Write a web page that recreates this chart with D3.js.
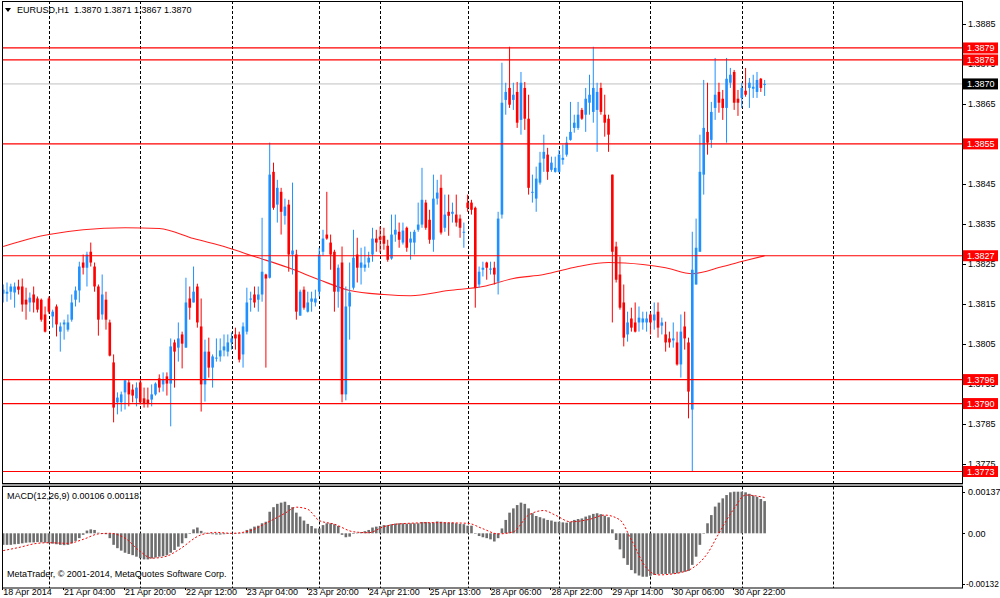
<!DOCTYPE html>
<html><head><meta charset="utf-8">
<script src="https://cdn.jsdelivr.net/npm/d3@7"></script>
<style>
body{margin:0;background:#fff;}
svg{display:block;}
text{font-family:"Liberation Sans",Arial,sans-serif;font-size:9px;fill:#000;white-space:pre;}
</style>
</head><body>
<svg id="c" width="1000" height="598"></svg>
<script>
const symbolTitle = "EURUSD,H1  1.3870 1.3871 1.3867 1.3870";
const macdTitle = "MACD(12,26,9) 0.00106 0.00118";
const copyright = "MetaTrader, © 2001-2014, MetaQuotes Software Corp.";

const opens = [1.38175,1.38175,1.38180,1.38178,1.38193,1.38193,1.38160,1.38153,1.38173,1.38163,
1.38160,1.38123,1.38163,1.38118,1.38143,1.38080,1.38098,1.38085,1.38110,1.38160,
1.38183,1.38253,1.38240,1.38280,1.38243,1.38193,1.38123,1.38160,1.38103,1.38003,
1.37903,1.37903,1.37928,1.37953,1.37935,1.37913,1.37953,1.37913,1.37910,1.37910,
1.37923,1.37963,1.37948,1.37968,1.37950,1.38053,1.38040,1.38073,1.38040,1.38163,
1.38153,1.38193,1.38093,1.37948,1.38030,1.37990,1.38013,1.38018,1.38033,1.38030,
1.38053,1.38073,1.38073,1.38023,1.38080,1.38160,1.38173,1.38160,1.38173,1.38223,
1.38215,1.38480,1.38398,1.38430,1.38370,1.38398,1.38273,1.38273,1.38120,1.38185,
1.38130,1.38155,1.38153,1.38180,1.38280,1.38323,1.38303,1.38280,1.38180,1.38253,
1.37923,1.38143,1.38190,1.38273,1.38240,1.38240,1.38253,1.38273,1.38313,1.38318,
1.38320,1.38295,1.38263,1.38323,1.38330,1.38303,1.38340,1.38303,1.38303,1.38335,
1.38348,1.38403,1.38360,1.38310,1.38413,1.38440,1.38340,1.38380,1.38375,1.38373,
1.38363,1.38328,1.38403,1.38403,1.38390,1.38198,1.38235,1.38253,1.38235,1.38240,
1.38205,1.38373,1.38660,1.38690,1.38660,1.38680,1.38610,1.38690,1.38613,1.38428,
1.38413,1.38453,1.38513,1.38523,1.38485,1.38480,1.38480,1.38510,1.38523,1.38560,
1.38590,1.38590,1.38635,1.38623,1.38653,1.38630,1.38635,1.38690,1.38623,1.38613,
1.38473,1.38293,1.38223,1.38153,1.38073,1.38113,1.38103,1.38103,1.38103,1.38103,
1.38123,1.38108,1.38130,1.38095,1.38073,1.38063,1.38058,1.38053,1.37998,1.38093,
1.38053,1.37885,1.38198,1.38280,1.38473,1.38580,1.38560,1.38640,1.38680,1.38663,
1.38640,1.38703,1.38730,1.38663,1.38665,1.38683,1.38690,1.38688,1.38680,1.38713,
1.38700];
const highs = [1.38198,1.38203,1.38200,1.38203,1.38210,1.38213,1.38190,1.38178,1.38193,1.38168,
1.38163,1.38143,1.38168,1.38135,1.38148,1.38103,1.38110,1.38123,1.38173,1.38193,
1.38255,1.38273,1.38280,1.38303,1.38253,1.38198,1.38223,1.38180,1.38110,1.38023,
1.37928,1.37930,1.37960,1.37960,1.37948,1.37953,1.37960,1.37940,1.37940,1.37948,
1.37953,1.37973,1.37978,1.37978,1.38063,1.38060,1.38103,1.38080,1.38215,1.38193,
1.38243,1.38200,1.38163,1.38060,1.38065,1.38023,1.38063,1.38063,1.38073,1.38073,
1.38078,1.38090,1.38080,1.38103,1.38190,1.38180,1.38193,1.38193,1.38365,1.38225,
1.38553,1.38503,1.38460,1.38440,1.38413,1.38410,1.38453,1.38285,1.38185,1.38193,
1.38180,1.38180,1.38185,1.38290,1.38335,1.38430,1.38323,1.38285,1.38248,1.38293,
1.38193,1.38253,1.38335,1.38315,1.38290,1.38293,1.38280,1.38340,1.38335,1.38343,
1.38340,1.38310,1.38373,1.38373,1.38353,1.38353,1.38343,1.38330,1.38335,1.38403,
1.38490,1.38410,1.38385,1.38473,1.38460,1.38473,1.38423,1.38423,1.38403,1.38423,
1.38373,1.38353,1.38423,1.38410,1.38393,1.38243,1.38255,1.38255,1.38255,1.38255,
1.38380,1.38753,1.38703,1.38793,1.38703,1.38705,1.38730,1.38705,1.38673,1.38473,
1.38493,1.38530,1.38573,1.38540,1.38518,1.38518,1.38535,1.38548,1.38568,1.38655,
1.38623,1.38655,1.38640,1.38690,1.38723,1.38793,1.38703,1.38703,1.38673,1.38623,
1.38473,1.38305,1.38268,1.38198,1.38130,1.38140,1.38153,1.38143,1.38130,1.38130,
1.38128,1.38153,1.38153,1.38115,1.38105,1.38080,1.38103,1.38080,1.38123,1.38130,
1.38065,1.38330,1.38363,1.38573,1.38710,1.38703,1.38655,1.38765,1.38703,1.38685,
1.38765,1.38740,1.38735,1.38685,1.38703,1.38740,1.38715,1.38723,1.38730,1.38715,
1.38710];
const lows = [1.38153,1.38155,1.38160,1.38140,1.38173,1.38130,1.38110,1.38130,1.38128,1.38128,
1.38105,1.38078,1.38125,1.38090,1.38068,1.38030,1.38060,1.38080,1.38105,1.38143,
1.38153,1.38223,1.38193,1.38243,1.38180,1.38070,1.38110,1.38085,1.38018,1.37853,
1.37873,1.37880,1.37885,1.37893,1.37903,1.37893,1.37898,1.37890,1.37890,1.37893,
1.37920,1.37928,1.37930,1.37920,1.37843,1.37940,1.38005,1.37988,1.38040,1.38110,
1.38153,1.38090,1.37880,1.37905,1.37965,1.37940,1.38005,1.38005,1.38018,1.38018,
1.38035,1.38035,1.38003,1.37990,1.38073,1.38130,1.38140,1.38130,1.38155,1.37990,
1.38213,1.38385,1.38353,1.38323,1.38348,1.38230,1.38223,1.38110,1.38120,1.38135,
1.38128,1.38130,1.38143,1.38168,1.38270,1.38310,1.38235,1.38130,1.38140,1.37903,
1.37908,1.38060,1.38185,1.38203,1.38198,1.38230,1.38240,1.38255,1.38280,1.38278,
1.38285,1.38255,1.38260,1.38305,1.38290,1.38298,1.38280,1.38260,1.38273,1.38330,
1.38340,1.38335,1.38300,1.38280,1.38398,1.38323,1.38330,1.38320,1.38353,1.38343,
1.38315,1.38290,1.38380,1.38373,1.38140,1.38190,1.38218,1.38210,1.38223,1.38198,
1.38173,1.38363,1.38623,1.38640,1.38635,1.38590,1.38573,1.38585,1.38423,1.38403,
1.38380,1.38448,1.38480,1.38460,1.38480,1.38478,1.38478,1.38498,1.38518,1.38558,
1.38578,1.38585,1.38610,1.38580,1.38623,1.38603,1.38530,1.38623,1.38568,1.38530,
1.38103,1.38203,1.38135,1.38043,1.38055,1.38080,1.38078,1.38080,1.38085,1.38080,
1.38073,1.38085,1.38065,1.38073,1.38030,1.38040,1.38040,1.37995,1.37965,1.38035,
1.37863,1.37730,1.38198,1.38280,1.38423,1.38523,1.38540,1.38610,1.38628,1.38610,
1.38553,1.38690,1.38635,1.38620,1.38640,1.38668,1.38640,1.38665,1.38665,1.38680,
1.38670];
const closes = [1.38185,1.38180,1.38193,1.38193,1.38185,1.38148,1.38148,1.38165,1.38153,1.38135,
1.38110,1.38080,1.38130,1.38130,1.38098,1.38093,1.38103,1.38103,1.38153,1.38183,
1.38243,1.38240,1.38273,1.38253,1.38193,1.38110,1.38173,1.38110,1.38020,1.37890,
1.37915,1.37923,1.37958,1.37923,1.37920,1.37940,1.37903,1.37900,1.37900,1.37923,
1.37950,1.37940,1.37960,1.37950,1.38043,1.38030,1.38063,1.38050,1.38153,1.38140,
1.38180,1.38103,1.37948,1.38030,1.37990,1.38018,1.38015,1.38033,1.38043,1.38053,
1.38063,1.38063,1.38010,1.38093,1.38153,1.38163,1.38153,1.38173,1.38230,1.38213,
1.38473,1.38390,1.38440,1.38380,1.38393,1.38273,1.38283,1.38130,1.38180,1.38140,
1.38153,1.38163,1.38163,1.38273,1.38313,1.38313,1.38273,1.38180,1.38240,1.37923,
1.38143,1.38178,1.38265,1.38240,1.38253,1.38248,1.38265,1.38313,1.38303,1.38310,
1.38300,1.38260,1.38323,1.38335,1.38310,1.38333,1.38290,1.38313,1.38330,1.38348,
1.38410,1.38340,1.38310,1.38413,1.38428,1.38328,1.38373,1.38370,1.38380,1.38353,
1.38340,1.38330,1.38390,1.38385,1.38190,1.38230,1.38240,1.38240,1.38238,1.38223,
1.38363,1.38653,1.38680,1.38648,1.38673,1.38603,1.38703,1.38613,1.38440,1.38430,
1.38463,1.38503,1.38530,1.38480,1.38503,1.38490,1.38523,1.38515,1.38553,1.38580,
1.38603,1.38623,1.38613,1.38663,1.38673,1.38690,1.38680,1.38630,1.38603,1.38573,
1.38280,1.38210,1.38140,1.38065,1.38103,1.38090,1.38080,1.38115,1.38113,1.38113,
1.38103,1.38123,1.38090,1.38103,1.38053,1.38053,1.38063,1.37998,1.38080,1.38063,
1.37930,1.38235,1.38290,1.38480,1.38590,1.38553,1.38630,1.38673,1.38653,1.38640,
1.38713,1.38723,1.38653,1.38653,1.38690,1.38673,1.38703,1.38693,1.38710,1.38690,
1.38700];

// moving average readings (bar index, price)
const maBars = [0,8,12,21,32,41,50,59,66,75,83,91,100,107,117,126,134,142,151,159,168,174,181,189,195,200];
const maVals = [1.38293,1.38315,1.38323,1.38335,1.38340,1.38338,1.38313,1.38290,1.38268,1.38240,1.38210,1.38183,1.38173,1.38170,1.38183,1.38193,1.38213,1.38223,1.38243,1.38253,1.38248,1.38240,1.38225,1.38243,1.38258,1.38270];

// MACD main (histogram) values, in 1e-5
const macdHist = [-38,-38,-38,-36,-35,-33,-31,-30,-30,-29,
-30,-31,-33,-34,-36,-38,-39,-38,-33,-25,
-16,-5,9,13,11,2,-2,-3,-16,-38,
-49,-57,-64,-68,-72,-77,-82,-86,-86,-83,
-80,-77,-75,-72,-64,-55,-44,-33,-16,-2,
13,19,8,2,-2,-3,-4,-4,-3,-2,
-1,1,-1,2,11,15,22,25,33,38,
71,86,97,101,104,93,86,68,55,42,
31,24,16,16,27,33,33,30,24,-5,
-13,-11,-2,2,4,7,11,19,22,24,
27,27,30,32,33,33,32,33,33,33,
37,37,35,36,39,38,36,35,35,33,
31,30,25,25,-1,-9,-13,-16,-20,-27,
-16,16,44,68,82,93,101,97,82,66,
57,53,49,44,42,38,38,36,35,38,
44,47,49,55,59,64,66,63,58,53,
13,-22,-53,-82,-104,-121,-132,-139,-143,-143,
-140,-137,-135,-134,-134,-133,-133,-132,-129,-127,
-124,-104,-77,-38,1,33,60,88,101,115,
126,135,137,137,137,135,130,125,120,113,
106];
// MACD signal readings (bar index, 1e-5)
const sigBars = [0,4,9,12,17,21,25,28,32,36,39,43,46,52,56,60,65,69,74,77,80,83,87,92,96,100,104,113,122,126,130,134,138,142,145,149,154,158,162,165,169,172,178,181,185,188,192,195,200];
const sigVals = [-57,-47,-33,-31,-33,-20,-2,0,-16,-60,-82,-75,-55,-5,3,0,9,33,66,86,79,42,30,5,2,22,31,35,33,15,-2,5,60,75,60,38,46,60,44,-22,-115,-137,-129,-115,-66,0,82,126,118];

const timeLabels = ["18 Apr 2014","21 Apr 04:00","21 Apr 20:00","22 Apr 12:00","23 Apr 04:00","23 Apr 20:00","24 Apr 21:00","25 Apr 13:00","28 Apr 06:00","28 Apr 22:00","29 Apr 14:00","30 Apr 06:00","30 Apr 22:00"];
const labelStep = 16;
const gridBars = [12,36,60,83,99,122,146,170,194,218];

const priceTicks = [1.3885,1.3875,1.3865,1.3855,1.3845,1.3835,1.3825,1.3815,1.3805,1.3795,1.3785,1.3775];
const levelLines = [1.3879,1.3876,1.3855,1.3827,1.3796,1.3790,1.3773];
const bidPrice = 1.3870;
const macdTicks = [0.00137, 0, -0.00132];
const macdTickText = ["0.00137","0.00","-0.00132"];

// ---------- drawing ----------
const svg = d3.select("#c");
const L = 2, R = 962, T = 1, MB = 483.5, ST = 486.5, SB = 588;
const x = d3.scaleLinear().domain([0, 252]).range([3.2, 962.6]);
const y = d3.scaleLinear().domain([1.3775, 1.3885]).range([463.5, 24]);
const my = d3.scaleLinear().domain([0, 0.00137]).range([533.3, 491.7]);

svg.append("rect").attr("width",1000).attr("height",598).attr("fill","#fff");

const defs = svg.append("defs");
defs.append("clipPath").attr("id","cm").append("rect").attr("x",L).attr("y",T).attr("width",R-L).attr("height",MB-T);
defs.append("clipPath").attr("id","cs").append("rect").attr("x",L).attr("y",ST).attr("width",R-L).attr("height",SB-ST);

const gm = svg.append("g").attr("clip-path","url(#cm)");
const gs = svg.append("g").attr("clip-path","url(#cs)");

// vertical grid
[gm, gs].forEach((g,k) => {
  g.selectAll("line.grid").data(gridBars).join("line")
    .attr("x1", d => Math.round(x(d))+0.5).attr("x2", d => Math.round(x(d))+0.5)
    .attr("y1", k ? ST : T).attr("y2", k ? SB : MB)
    .attr("stroke","#000").attr("stroke-width",1).attr("stroke-dasharray","3,2");
});

// bid line
gm.append("line").attr("x1",L).attr("x2",R).attr("y1",y(bidPrice)).attr("y2",y(bidPrice))
  .attr("stroke","#c0c0c0").attr("stroke-width",1);

// moving average
const maLine = d3.line().x((d,i)=>x(maBars[i])).y((d,i)=>y(maVals[i])).curve(d3.curveMonotoneX);
gm.append("path").attr("d", maLine(maVals)).attr("fill","none").attr("stroke","#ff2020").attr("stroke-width",1.1);

// candles
const idx = d3.range(opens.length);
const col = i => closes[i] >= opens[i] ? "#1e90ff" : "#ff0000";
gm.selectAll("line.wick").data(idx).join("line")
  .attr("x1", i => x(i)).attr("x2", i => x(i))
  .attr("y1", i => y(highs[i])).attr("y2", i => y(lows[i]))
  .attr("stroke", col).attr("stroke-width",1);
gm.selectAll("rect.body").data(idx).join("rect")
  .attr("x", i => x(i)-1.3).attr("width", 2.6)
  .attr("y", i => y(Math.max(opens[i],closes[i])))
  .attr("height", i => Math.max(1, Math.abs(y(opens[i])-y(closes[i]))))
  .attr("fill", col);

// level lines
gm.selectAll("line.lvl").data(levelLines).join("line")
  .attr("x1",L).attr("x2",R).attr("y1",d=>y(d)).attr("y2",d=>y(d))
  .attr("stroke","#ff0000").attr("stroke-width",1.2);

// MACD histogram
gs.selectAll("rect.h").data(idx).join("rect")
  .attr("x", i => x(i)-1.3).attr("width", 2.6)
  .attr("y", i => Math.min(my(macdHist[i]/1e5), my(0)))
  .attr("height", i => Math.max(0.5, Math.abs(my(macdHist[i]/1e5)-my(0))))
  .attr("fill","#6e6e6e");
const sigLine = d3.line().x((d,i)=>x(sigBars[i])).y((d,i)=>my(sigVals[i]/1e5)).curve(d3.curveMonotoneX);
gs.append("path").attr("d", sigLine(sigVals)).attr("fill","none").attr("stroke","#ff0000")
  .attr("stroke-width",1).attr("stroke-dasharray","2,2");

// frames
svg.append("rect").attr("x",L+0.5).attr("y",T+0.5).attr("width",R-L).attr("height",MB-T-0.5)
  .attr("fill","none").attr("stroke","#000");
svg.append("rect").attr("x",L).attr("y",MB+0.5).attr("width",R-L+1).attr("height",ST-MB-1).attr("fill","#a0a0a0");
svg.append("rect").attr("x",L+0.5).attr("y",ST).attr("width",R-L).attr("height",SB-ST)
  .attr("fill","none").attr("stroke","#000");

// header
svg.append("path").attr("d","M5,8 L11,8 L8,12 Z").attr("fill","#000");
svg.append("text").attr("x",17).attr("y",13).text(symbolTitle);
svg.append("text").attr("x",7).attr("y",498.5).text(macdTitle);
svg.append("text").attr("x",7).attr("y",577).text(copyright);

// price axis
const pa = svg.append("g");
pa.selectAll("line").data(priceTicks).join("line")
  .attr("x1",R).attr("x2",R+4).attr("y1",d=>Math.round(y(d))+0.5).attr("y2",d=>Math.round(y(d))+0.5).attr("stroke","#000");
pa.selectAll("text").data(priceTicks).join("text")
  .attr("x",R+6).attr("y",d=>y(d)+3.3).text(d=>d3.format(".4f")(d));

// level labels
const lv = svg.append("g");
lv.selectAll("rect").data(levelLines).join("rect")
  .attr("x",R+1).attr("y",d=>y(d)-5.5).attr("width",35).attr("height",11).attr("fill","#ff0000");
lv.selectAll("text").data(levelLines).join("text")
  .attr("x",R+5).attr("y",d=>y(d)+3.3).style("fill","#fff").text(d=>d3.format(".4f")(d));
svg.append("rect").attr("x",R+1).attr("y",y(bidPrice)-5.5).attr("width",35).attr("height",11).attr("fill","#000");
svg.append("text").attr("x",R+5).attr("y",y(bidPrice)+3.3).style("fill","#fff").text(d3.format(".4f")(bidPrice));

// MACD axis
const ma = svg.append("g");
const isLast = i => i === macdTicks.length-1;
const macdY = (v,i) => isLast(i) ? SB-4 : my(v);
ma.selectAll("line").data(macdTicks).join("line")
  .attr("x1",R).attr("x2",R+3).attr("y1",(d,i)=>Math.round(macdY(d,i))+0.5).attr("y2",(d,i)=>Math.round(macdY(d,i))+0.5).attr("stroke","#000");
ma.selectAll("text").data(macdTicks).join("text")
  .attr("x",(d,i)=> isLast(i) ? R+4 : R+6).attr("y",(d,i)=>macdY(d,i)+3.3)
  .style("font-size",(d,i)=> isLast(i) ? "8.3px" : null)
  .text((d,i)=>macdTickText[i]);

// time axis
const ta = svg.append("g");
ta.selectAll("line").data(timeLabels).join("line")
  .attr("x1",(d,i)=>Math.round(x(i*labelStep))-0.5).attr("x2",(d,i)=>Math.round(x(i*labelStep))-0.5)
  .attr("y1",SB).attr("y2",SB+2).attr("stroke","#000");
ta.selectAll("text").data(timeLabels).join("text")
  .attr("x",(d,i)=>x(i*labelStep)).attr("y",595).text(d=>d);
</script>
</body></html>
